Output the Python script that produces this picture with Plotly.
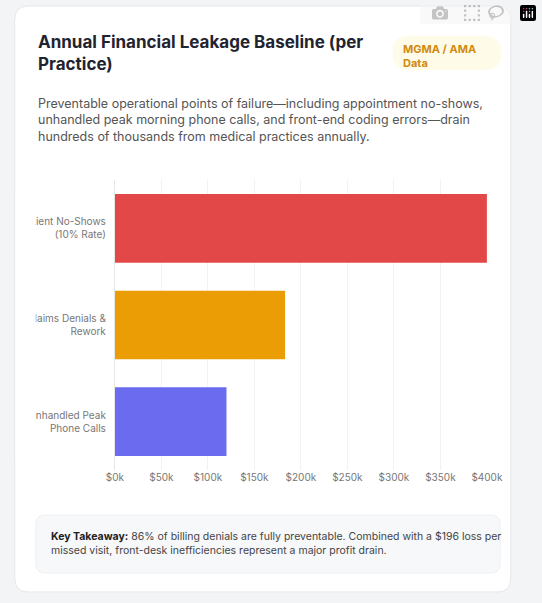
import plotly.graph_objects as go

W, H = 542, 603

categories = ["Patient No-Shows<br>(10% Rate)", "Claims Denials &<br>Rework", "Unhandled Peak<br>Phone Calls"]
values = [400000, 183000, 120000]
colors = ["#e34848", "#eb9d05", "#6b6bf0"]
tick_vals = [0, 50000, 100000, 150000, 200000, 250000, 300000, 350000, 400000]
tick_text = ["$0k", "$50k", "$100k", "$150k", "$200k", "$250k", "$300k", "$350k", "$400k"]


def px_x(v):
    return v / W


def px_y(v):
    return 1 - v / H


def rounded(x0, y0, x1, y1, r):
    # rounded rectangle path in pixel coords -> paper coords
    pts = (f"M {px_x(x0 + r)} {px_y(y0)} L {px_x(x1 - r)} {px_y(y0)} "
           f"Q {px_x(x1)} {px_y(y0)} {px_x(x1)} {px_y(y0 + r)} "
           f"L {px_x(x1)} {px_y(y1 - r)} Q {px_x(x1)} {px_y(y1)} {px_x(x1 - r)} {px_y(y1)} "
           f"L {px_x(x0 + r)} {px_y(y1)} Q {px_x(x0)} {px_y(y1)} {px_x(x0)} {px_y(y1 - r)} "
           f"L {px_x(x0)} {px_y(y0 + r)} Q {px_x(x0)} {px_y(y0)} {px_x(x0 + r)} {px_y(y0)} Z")
    return pts


fig = go.Figure(go.Bar(
    y=categories, x=values, orientation="h",
    marker=dict(color=colors, line=dict(width=0)),
    hovertemplate="%{y}: $%{x:,.0f}<extra></extra>",
))

fig.update_layout(
    width=W, height=H,
    margin=dict(l=0, r=0, t=0, b=0),
    paper_bgcolor="#f3f4f6",
    plot_bgcolor="rgba(0,0,0,0)",
    font=dict(family="Inter, sans-serif", color="#555"),
    showlegend=False,
    bargap=0.29,
    xaxis=dict(
        domain=[px_x(111), px_x(501)], range=[0, 400000],
        tickvals=tick_vals, ticktext=tick_text,
        tickfont=dict(size=10, color="#777"),
        showgrid=True, gridcolor="#f2f2f2", zeroline=False,
        showline=False, fixedrange=True,
    ),
    yaxis=dict(
        domain=[px_y(470), px_y(180)], autorange="reversed",
        tickfont=dict(size=10, color="#777"), ticklabelstandoff=6,
        showline=True, linecolor="#e6e6e6", linewidth=1, fixedrange=True,
    ),
    shapes=[
        dict(type="path", xref="paper", yref="paper", path=rounded(6, 6, 526, 592, 14),
             fillcolor="white", line=dict(color="#e5e7eb", width=1), layer="below"),
        dict(type="path", xref="paper", yref="paper", path=rounded(402, 36, 516, 70, 17),
             fillcolor="#fefbe8", line=dict(width=0), layer="below"),
        dict(type="path", xref="paper", yref="paper", path=rounded(28, 515, 515, 573, 10),
             fillcolor="#f7f8fa", line=dict(color="#eef0f3", width=1), layer="below"),
        # card padding hides the overflowing label starts
        dict(type="rect", xref="paper", yref="paper", x0=px_x(7), x1=px_x(28),
             y0=px_y(190), y1=px_y(460), fillcolor="white", line=dict(width=0), layer="above"),
    ],
    annotations=[
        dict(x=px_x(28), y=px_y(30), xanchor="left", yanchor="top", align="left",
             text="<b>Annual Financial Leakage Baseline (per<br>Practice)</b>",
             font=dict(size=17, color="#1f2430"), showarrow=False, xref="paper", yref="paper"),
        dict(x=px_x(411), y=px_y(40), xanchor="left", yanchor="top", align="left",
             text="<b>MGMA / AMA<br>Data</b>",
             font=dict(size=11, color="#d08a10"), showarrow=False, xref="paper", yref="paper"),
        dict(x=px_x(28), y=px_y(94), xanchor="left", yanchor="top", align="left",
             text="Preventable operational points of failure—including appointment no-shows,<br>"
                  "unhandled peak morning phone calls, and front-end coding errors—drain<br>"
                  "hundreds of thousands from medical practices annually.",
             font=dict(size=12.5, color="#555"), showarrow=False, xref="paper", yref="paper"),
        dict(x=px_x(42), y=px_y(528), xanchor="left", yanchor="top", align="left",
             text="<b style='color:#222'>Key Takeaway:</b> 86% of billing denials are fully preventable. Combined with a $196 loss per<br>"
                  "missed visit, front-desk inefficiencies represent a major profit drain.",
             font=dict(size=10.5, color="#444"), showarrow=False, xref="paper", yref="paper"),
    ],
)

fig.write_html("out.html", post_script="document.body.style.margin='0';document.body.style.overflow='hidden';")
